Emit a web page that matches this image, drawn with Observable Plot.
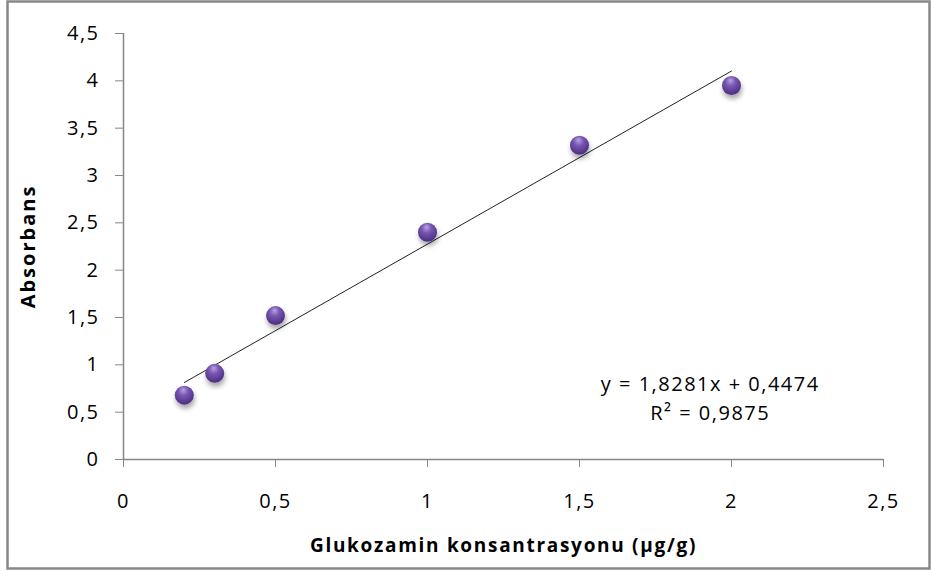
<!DOCTYPE html>
<html><head><meta charset="utf-8">
<script src="https://cdn.jsdelivr.net/npm/d3@7"></script>
<script src="https://cdn.jsdelivr.net/npm/@observablehq/plot@0.6"></script>
<style>
body{margin:0;background:#fff} svg{display:block}
.ticks text{letter-spacing:1.5px}
.eq text{letter-spacing:1.5px}
.ytitle text{letter-spacing:2px}
.xtitle text{letter-spacing:1.7px}
</style>
</head><body><div id="chart"></div>
<script>
const concentrations = [0.2, 0.3, 0.5, 1, 1.5, 2];
const absorbances = [0.68, 0.91, 1.52, 2.40, 3.32, 3.95];
const slope = 1.8281, intercept = 0.4474;
const trendX = [0.2, 2];
const xTicks = [0, 0.5, 1, 1.5, 2, 2.5];
const yTicks = [0, 0.5, 1, 1.5, 2, 2.5, 3, 3.5, 4, 4.5];
const equationText = "y = 1,8281x + 0,4474\nR² = 0,9875";
const equationPos = {x: 1.93, y: 0.67};
const xTitle = "Glukozamin konsantrasyonu (µg/g)";
const yTitle = "Absorbans";

const points = concentrations.map((x, i) => ({x, y: absorbances[i]}));
const trend = trendX.map(x => ({x, y: slope * x + intercept}));
const fmt = d => String(d).replace(".", ",");
const FONT = "'Open Sans', sans-serif";
const AXIS = "#868686";

const chart = Plot.plot({
  width: 931, height: 571,
  marginLeft: 123, marginRight: 48, marginTop: 33, marginBottom: 112,
  style: {fontFamily: FONT, background: "#fff"},
  x: {domain: [0, 2.5]},
  y: {domain: [0, 4.5]},
  marks: [
    Plot.axisX({ticks: xTicks, tickFormat: fmt, tickSize: 8, tickPadding: 26, stroke: AXIS, fontSize: 20, fill: "#000", label: null, className: "ticks"}),
    Plot.axisY({ticks: yTicks, tickFormat: fmt, tickSize: 8, tickPadding: 16, stroke: AXIS, fontSize: 20, fill: "#000", label: null, className: "ticks"}),
    Plot.ruleY([0], {x1: 0, x2: 2.5, stroke: AXIS, strokeWidth: 1.5}),
    Plot.ruleX([0], {y1: 0, y2: 4.5, stroke: AXIS, strokeWidth: 1.5}),
    Plot.line(trend, {x: "x", y: "y", stroke: "#222", strokeWidth: 1}),
    Plot.dot(points, {x: "x", y: "y", r: 9.5, fill: "url(#sphere)", stroke: "none"}),
    Plot.text([equationText], {x: equationPos.x, y: equationPos.y, text: d => d, fontSize: 20, lineHeight: 1.45, fill: "#000", textAnchor: "middle", className: "eq"}),
    Plot.text([yTitle], {frameAnchor: "left", dx: -95, rotate: -90, textAnchor: "middle", fontSize: 20, fontWeight: "bold", fill: "#000", className: "ytitle"}),
    Plot.text([xTitle], {frameAnchor: "bottom", dy: 92, textAnchor: "middle", fontSize: 19, fontWeight: "bold", fill: "#000", className: "xtitle"})
  ]
});

const svg = d3.select(chart);
const defs = svg.insert("defs", ":first-child");
const g = defs.append("radialGradient").attr("id", "sphere").attr("cx", "45%").attr("cy", "35%").attr("r", "65%").attr("fx", "45%").attr("fy", "22%");
g.append("stop").attr("offset", "0%").attr("stop-color", "#b9a3e3");
g.append("stop").attr("offset", "40%").attr("stop-color", "#7857b3");
g.append("stop").attr("offset", "100%").attr("stop-color", "#4a2d80");
const f = defs.append("filter").attr("id", "shadow").attr("x", "-50%").attr("y", "-50%").attr("width", "200%").attr("height", "200%");
f.append("feDropShadow").attr("dx", 1).attr("dy", 4).attr("stdDeviation", 2.5).attr("flood-color", "#000").attr("flood-opacity", 0.35);
svg.selectAll("circle").attr("filter", "url(#shadow)");
svg.append("rect").attr("x", 7.5).attr("y", 1.5).attr("width", 922).attr("height", 567).attr("fill", "none").attr("stroke", "#888").attr("stroke-width", 2.5);
document.getElementById("chart").appendChild(chart);
</script></body></html>
